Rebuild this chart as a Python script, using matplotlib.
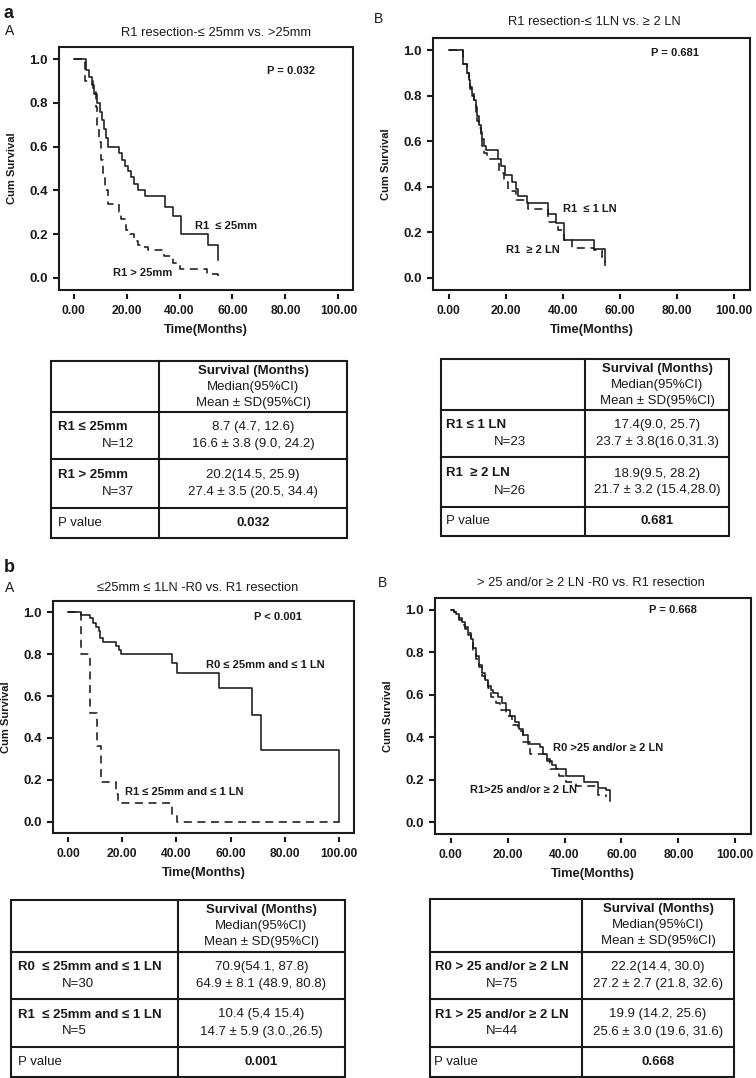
import numpy as np
import matplotlib.pyplot as plt
from matplotlib.patches import Rectangle

plt.rcParams['font.family'] = ['Liberation Sans', 'DejaVu Sans']

W, H = 756, 1078

# ---- Kaplan-Meier curves: (months, cum survival) ----
# a / A : R1 <= 25mm vs > 25mm
aA_small_t = [0, 4.8, 5.8, 6.8, 7.8, 8.8, 9.8, 10.6, 11.4, 12.2, 13.0, 17.0, 18.2, 19.4,
              20.5, 21.8, 23.0, 24.5, 27.1, 34.7, 37.5, 40.5, 50.8, 54.6]
aA_small_s = [1.0, 0.95, 0.92, 0.88, 0.84, 0.80, 0.76, 0.72, 0.68, 0.64, 0.60, 0.57, 0.54, 0.51,
              0.49, 0.46, 0.43, 0.40, 0.375, 0.325, 0.285, 0.20, 0.15, 0.08]
aA_large_t = [0, 4.5, 7.3, 8.3, 9.0, 9.6, 10.4, 11.3, 12.0, 13.0, 17.2, 17.9, 19.7, 21.2,
              23.0, 24.3, 25.6, 28.0, 34.3, 37.5, 40.0, 50.5, 54.6]
aA_large_s = [1.0, 0.90, 0.85, 0.78, 0.70, 0.62, 0.54, 0.46, 0.40, 0.34, 0.30, 0.27, 0.22, 0.20,
              0.17, 0.15, 0.14, 0.13, 0.10, 0.07, 0.04, 0.02, 0.01]

# a / B : R1 <= 1 LN vs >= 2 LN
aB_le1_t = [0, 5.0, 6.4, 7.0, 7.6, 8.2, 8.8, 9.4, 10.0, 10.6, 11.2, 11.8, 12.4, 13.1, 17.3,
            18.4, 19.7, 22.0, 23.4, 24.3, 27.5, 34.9, 37.6, 40.5, 50.9, 54.9]
aB_le1_s = [1.0, 0.94, 0.90, 0.87, 0.84, 0.81, 0.78, 0.75, 0.71, 0.67, 0.64, 0.61, 0.58, 0.56, 0.52,
            0.49, 0.45, 0.42, 0.39, 0.36, 0.33, 0.28, 0.24, 0.165, 0.125, 0.07]
aB_ge2_t = [0, 5.0, 6.4, 7.0, 7.6, 8.2, 8.8, 9.4, 10.0, 10.6, 11.2, 11.8, 12.4, 13.3, 17.5,
            19.2, 20.8, 23.5, 27.7, 34.9, 38.2, 40.5, 43.0, 50.9, 53.8, 54.9]
aB_ge2_s = [1.0, 0.94, 0.90, 0.86, 0.83, 0.80, 0.77, 0.73, 0.69, 0.66, 0.62, 0.58, 0.55, 0.52, 0.46,
            0.42, 0.38, 0.34, 0.30, 0.245, 0.21, 0.165, 0.13, 0.12, 0.09, 0.05]

# b / A : <=25mm <=1 LN, R0 vs R1
bA_r0_t = [0, 4.9, 8.0, 9.3, 10.5, 11.5, 12.0, 13.0, 17.7, 18.9, 19.5, 38.5, 40.1, 55.9,
           67.9, 71.2, 99.8]
bA_r0_s = [1.0, 0.99, 0.975, 0.95, 0.93, 0.91, 0.88, 0.86, 0.84, 0.82, 0.80, 0.76, 0.71, 0.64,
           0.51, 0.34, 0.0]
bA_r1_t = [0, 4.9, 8.3, 10.7, 12.3, 17.9, 18.6, 38.3, 40.2, 99.8]
bA_r1_s = [1.0, 0.80, 0.52, 0.36, 0.19, 0.13, 0.09, 0.03, 0.0, 0.0]

# b / B : >25 and/or >=2 LN, R0 vs R1
bB_r0_t = [0, 1, 2, 3, 4, 5, 6, 7, 8, 9, 10, 11, 12, 13, 14, 15, 16.5, 18, 19.5, 21, 22.5,
           24, 25.5, 27, 31.3, 32.5, 34, 35.5, 37, 40.5, 47, 51.7, 54.5, 55.8]
bB_r0_s = [1.0, 0.99, 0.98, 0.96, 0.94, 0.92, 0.89, 0.86, 0.82, 0.78, 0.74, 0.70, 0.67, 0.64,
           0.62, 0.61, 0.59, 0.56, 0.53, 0.50, 0.47, 0.44, 0.41, 0.37, 0.355, 0.32, 0.29, 0.27,
           0.25, 0.22, 0.19, 0.16, 0.15, 0.10]
bB_r1_t = [0, 1, 2, 3, 4, 5, 6, 7, 8, 9, 10, 11, 12, 13, 14.3, 16, 17.5, 19.6, 21.5, 23.7,
           25.5, 27.8, 33, 34.8, 38, 40.6, 44, 51.7, 54.5]
bB_r1_s = [1.0, 0.99, 0.97, 0.95, 0.93, 0.91, 0.88, 0.85, 0.81, 0.77, 0.73, 0.69, 0.66, 0.63,
           0.59, 0.56, 0.53, 0.50, 0.46, 0.43, 0.38, 0.32, 0.30, 0.25, 0.22, 0.19, 0.17, 0.13, 0.12]

x_ticks = [0, 20, 40, 60, 80, 100]
x_ticklabels = ['0.00', '20.00', '40.00', '60.00', '80.00', '100.00']
y_ticks = [0.0, 0.2, 0.4, 0.6, 0.8, 1.0]
y_ticklabels = ['0.0', '0.2', '0.4', '0.6', '0.8', '1.0']

# ---- table contents ----
table_header = ['Survival (Months)', 'Median(95%CI)', 'Mean \u00b1 SD(95%CI)']
aA_rows = [('R1 \u2264 25mm', 'N=12', '8.7 (4.7, 12.6)', '16.6 \u00b1 3.8 (9.0, 24.2)'),
           ('R1 > 25mm', 'N=37', '20.2(14.5, 25.9)', '27.4 \u00b1 3.5 (20.5, 34.4)')]
aA_p = '0.032'
aB_rows = [('R1 \u2264 1 LN', 'N=23', '17.4(9.0, 25.7)', '23.7 \u00b1 3.8(16.0,31.3)'),
           ('R1  \u2265 2 LN', 'N=26', '18.9(9.5, 28.2)', '21.7 \u00b1 3.2 (15.4,28.0)')]
aB_p = '0.681'
bA_rows = [('R0  \u2264 25mm and \u2264 1 LN', 'N=30', '70.9(54.1, 87.8)', '64.9 \u00b1 8.1 (48.9, 80.8)'),
           ('R1  \u2264 25mm and \u2264 1 LN', 'N=5', '10.4 (5,4 15.4)', '14.7 \u00b1 5.9 (3.0.,26.5)')]
bA_p = '0.001'
bB_rows = [('R0 > 25 and/or \u2265 2 LN', 'N=75', '22.2(14.4, 30.0)', '27.2 \u00b1 2.7 (21.8, 32.6)'),
           ('R1 > 25 and/or \u2265 2 LN', 'N=44', '19.9 (14.2, 25.6)', '25.6 \u00b1 3.0 (19.6, 31.6)')]
bB_p = '0.668'

INK = '#1a1a1a'

fig = plt.figure(figsize=(W / 100, H / 100), dpi=100)


def px_axes(l, t, r, b):
    return fig.add_axes([l / W, 1 - b / H, (r - l) / W, (b - t) / H])


def km_panel(box, curves, notes):
    ax = px_axes(*box)
    # spine position first: moving a spine resets the tick labels
    for sp in ax.spines.values():
        sp.set_visible(False)
    ax.spines['bottom'].set_position(('outward', 3))
    for t, s, dashed in curves:
        ax.step(t, s, where='post', color=INK, lw=1.15,
                ls=(0, (5, 3.5)) if dashed else '-')
    for x, y, txt in notes:
        ax.text(x, y, txt, fontsize=8, fontweight='bold', color=INK, va='center')
    ax.set_xlim(-5.5, 105.5)
    ax.set_ylim(-0.055, 1.055)
    ax.set_xticks(x_ticks)
    ax.set_xticklabels(x_ticklabels, fontsize=8.7, fontweight='bold')
    ax.set_yticks(y_ticks)
    ax.set_yticklabels(y_ticklabels, fontsize=9.5, fontweight='bold')
    ax.tick_params(axis='x', direction='out', length=3.5, width=1.5, pad=4, colors=INK)
    ax.tick_params(axis='y', direction='out', length=4.5, width=1.5, pad=3.5, colors=INK)
    ax.add_patch(Rectangle((0, 0), 1, 1, transform=ax.transAxes, fill=False,
                           lw=1.5, ec=INK, clip_on=False))
    l, t, r, b = box
    over.text(l - 47, (t + b) / 2, 'Cum Survival', rotation=90, ha='center', va='center',
              fontsize=8, fontweight='bold', color=INK)
    over.text((l + r) / 2, b + 40, 'Time(Months)', ha='center', va='center',
              fontsize=9.3, fontweight='bold', color=INK)
    return ax


def draw_table(l, c, r, ys, rows, p_val, label_x, label_ha, n_x, n_ha):
    top, h1, r1, r2, bot = ys
    over.add_patch(Rectangle((l, top), r - l, bot - top, fill=False, lw=1.5, ec=INK))
    over.plot([c, c], [top, bot], color=INK, lw=1.5)
    for y in (h1, r1, r2):
        over.plot([l, r], [y, y], color=INK, lw=1.5)
    cx = (c + r) / 2
    for i, txt in enumerate(table_header):
        over.text(cx, top + 10 + 16 * i, txt, ha='center', va='center', fontsize=9.5,
                  fontweight='bold' if i == 0 else 'normal', color=INK)
    for (lab, n, med, mean), (y0, y1) in zip(rows, [(h1, r1), (r1, r2)]):
        ym = (y0 + y1) / 2
        over.text(label_x, ym - 8.5, lab, ha=label_ha, va='center', fontsize=9.5,
                  fontweight='bold', color=INK)
        over.text(n_x, ym + 8.5, n, ha=n_ha, va='center', fontsize=9.5, color=INK)
        over.text(cx, ym - 8.5, med, ha='center', va='center', fontsize=9.5, color=INK)
        over.text(cx, ym + 8.5, mean, ha='center', va='center', fontsize=9.5, color=INK)
    ym = (r2 + bot) / 2
    px = label_x if label_ha == 'left' else l + 4
    over.text(px, ym, 'P value', ha='left', va='center', fontsize=9.5, color=INK)
    over.text(cx, ym, p_val, ha='center', va='center', fontsize=9.5, fontweight='bold', color=INK)


# overlay in pixel coordinates for tables, titles and panel letters
over = fig.add_axes([0, 0, 1, 1])
over.set_xlim(0, W)
over.set_ylim(H, 0)
over.axis('off')

km_panel((59, 47, 353, 290),
         [(aA_small_t, aA_small_s, False), (aA_large_t, aA_large_s, True)],
         [(46, 0.236, 'R1  \u2264 25mm'), (15, 0.023, 'R1 > 25mm'), (73, 0.944, 'P = 0.032')])
km_panel((433, 38, 750, 290),
         [(aB_le1_t, aB_le1_s, False), (aB_ge2_t, aB_ge2_s, True)],
         [(40, 0.303, 'R1  \u2264 1 LN'), (20, 0.12, 'R1  \u2265 2 LN'), (71, 0.99, 'P = 0.681')])
km_panel((53, 601, 354, 833),
         [(bA_r0_t, bA_r0_s, False), (bA_r1_t, bA_r1_s, True)],
         [(51, 0.75, 'R0 \u2264 25mm and \u2264 1 LN'), (21, 0.14, 'R1 \u2264 25mm and \u2264 1 LN'),
          (68.5, 0.98, 'P < 0.001')])
km_panel((435, 598, 751, 834),
         [(bB_r0_t, bB_r0_s, False), (bB_r1_t, bB_r1_s, True)],
         [(36, 0.35, 'R0 >25 and/or \u2265 2 LN'), (6.7, 0.152, 'R1>25 and/or \u2265 2 LN'),
          (69.7, 1.0, 'P = 0.668')])

# panel letters and titles
over.text(4, 14, 'a', fontsize=13, fontweight='bold', va='center', color=INK)
over.text(5, 31, 'A', fontsize=10, va='center', color=INK)
over.text(216, 33, 'R1 resection-\u2264 25mm vs. >25mm', fontsize=9.3, ha='center', va='center', color=INK)
over.text(374, 19, 'B', fontsize=10, va='center', color=INK)
over.text(594, 22, 'R1 resection-\u2264 1LN vs. \u2265 2 LN', fontsize=9.3, ha='center', va='center', color=INK)
over.text(4, 568, 'b', fontsize=13, fontweight='bold', va='center', color=INK)
over.text(5, 588, 'A', fontsize=10, va='center', color=INK)
over.text(198, 588, '\u226425mm \u2264 1LN -R0 vs. R1 resection', fontsize=9.3, ha='center', va='center', color=INK)
over.text(378, 583, 'B', fontsize=10, va='center', color=INK)
over.text(591, 583, '> 25 and/or \u2265 2 LN -R0 vs. R1 resection', fontsize=9.3, ha='center', va='center', color=INK)

draw_table(51, 159, 347, (361, 412, 459, 508, 538), aA_rows, aA_p, 58, 'left', 118, 'center')
draw_table(441, 585, 729, (359, 410, 457, 507, 536), aB_rows, aB_p, 446, 'left', 510, 'center')
draw_table(11, 178, 345, (900, 952, 999, 1047, 1077), bA_rows, bA_p, 18, 'left', 62, 'left')
draw_table(430, 582, 734, (899, 952, 999, 1047, 1077), bB_rows, bB_p, 502, 'center', 502, 'center')

fig.savefig('out.png', dpi=100)
